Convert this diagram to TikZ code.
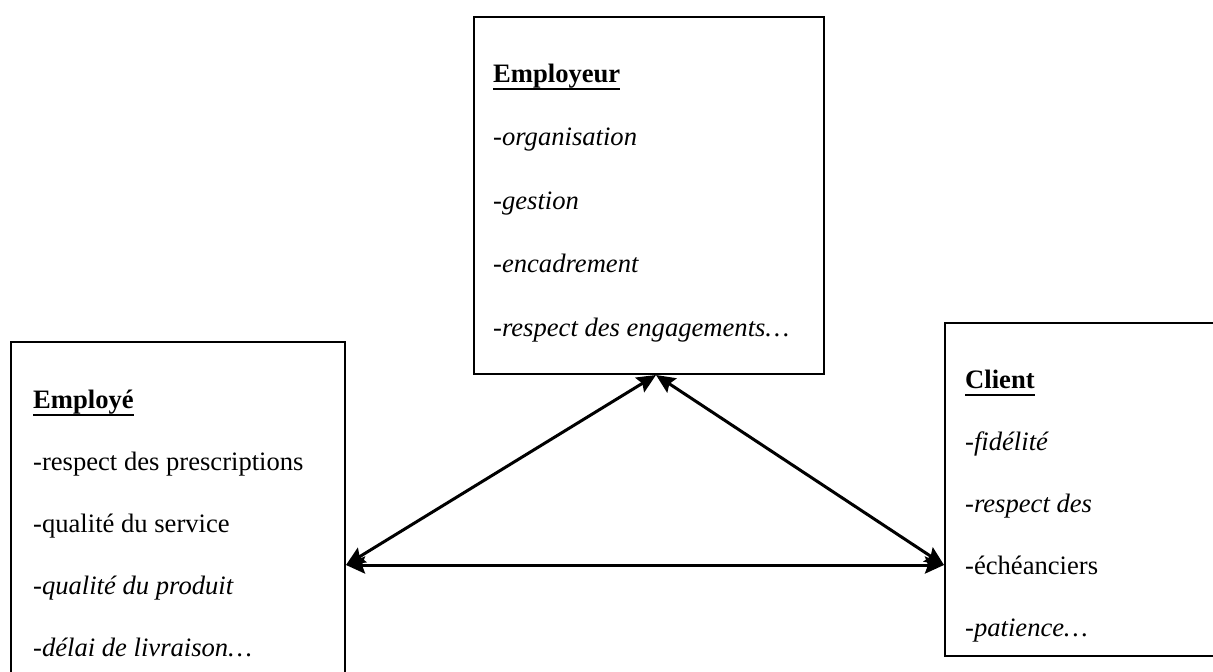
\documentclass[tikz,border=0pt]{standalone}
\usepackage{fontspec}
\setmainfont{Liberation Serif}
\usetikzlibrary{arrows.meta}
\begin{document}
\begin{tikzpicture}[x=1pt,y=-1pt,
  box/.style={draw, line width=2pt, rectangle, anchor=north west, inner sep=0pt},
  txt/.style={anchor=base west, inner sep=0pt, font=\fontsize{26.6}{30}\selectfont},
  ttl/.style={anchor=base west, inner sep=0pt, font=\fontsize{26.6}{30}\selectfont\bfseries},
  uline/.style={line width=2pt},
  link/.style={line width=3pt, {Stealth[length=19pt,width=17pt,inset=3pt]}-{Stealth[length=19pt,width=17pt,inset=3pt]}}]
\clip (0,0) rectangle (1213,672);
\fill[white] (0,0) rectangle (1213,672);
% boxes
\node[box, minimum width=350pt, minimum height=357pt] (employeur) at (473,16) {};
\node[box, minimum width=334pt, minimum height=420pt] (employe) at (10,341) {};
\node[box, minimum width=320pt, minimum height=333pt] (client) at (944,322) {};
% Employeur texts
\node[ttl] (t1) at (493,82) {Employeur};
\draw[uline] ([yshift=-7pt]t1.base west) -- ([yshift=-7pt]t1.base east);
\node[txt] (e1) at (493,145) {\itshape -organisation};
\node[txt] (e2) at (493,209) {\itshape -gestion};
\node[txt] (e3) at (493,272) {\itshape -encadrement};
\node[txt] (e4) at (493,336) {\itshape -respect des engagements\ldots};
% Employé texts
\node[ttl] (t2) at (33,408) {Employé};
\draw[uline] ([yshift=-7pt]t2.base west) -- ([yshift=-7pt]t2.base east);
\node[txt] (p1) at (33,470) {-respect des prescriptions};
\node[txt] (p2) at (33,532) {-qualité du service};
\node[txt] (p3) at (33,594) {\itshape -qualité du produit};
\node[txt] (p4) at (33,656) {\itshape -délai de livraison…};
% Client texts
\node[ttl] (t3) at (965,388) {Client};
\draw[uline] ([yshift=-7pt]t3.base west) -- ([yshift=-7pt]t3.base east);
\node[txt] (c1) at (965,450) {\itshape -fidélité};
\node[txt] (c2) at (965,512) {\itshape -respect des};
\node[txt] (c3) at (965,574) {-échéanciers};
\node[txt] (c4) at (965,636) {\itshape -patience…};
% connectors
\coordinate (lvl) at (0,565);
\coordinate (apx) at (656,0);
\draw[link] (employe.east |- lvl) -- (client.west |- lvl);
\draw[link] (employe.east |- lvl) -- (employeur.south -| apx);
\draw[link] (client.west |- lvl) -- (employeur.south -| apx);
\end{tikzpicture}
\end{document}
